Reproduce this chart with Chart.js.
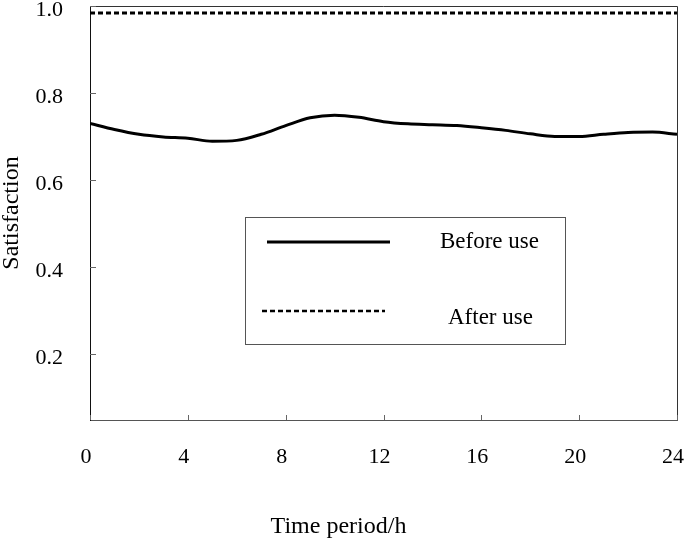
<!DOCTYPE html>
<html lang="en">
<head>
  <meta charset="UTF-8">
  <title>Satisfaction</title>
  <script src="https://cdn.jsdelivr.net/npm/chart.js"></script>
  <style>
    html, body { margin: 0; padding: 0; background: #fff; }
    #wrap { width: 685px; height: 541px; }
  </style>
</head>
<body>
  <div id="wrap"><canvas id="chart"></canvas></div>

  <script>
    const hours = [0, 1, 2, 3, 4, 5, 6, 7, 8, 9, 10, 11, 12, 13, 14, 15, 16, 17, 18, 19, 20, 21, 22, 23, 24];
    const beforeUse = [0.730, 0.716, 0.705, 0.699, 0.696, 0.689, 0.691, 0.705, 0.725, 0.743, 0.749, 0.744,
                       0.734, 0.729, 0.727, 0.725, 0.720, 0.714, 0.706, 0.700, 0.700, 0.705, 0.709, 0.710, 0.705];
    const afterUse = [0.984, 0.984, 0.984, 0.984, 0.984, 0.984, 0.984, 0.984, 0.984, 0.984, 0.984, 0.984,
                      0.984, 0.984, 0.984, 0.984, 0.984, 0.984, 0.984, 0.984, 0.984, 0.984, 0.984, 0.984, 0.984];
    const xTicks = [0, 4, 8, 12, 16, 20, 24];
    const yTicks = [0.2, 0.4, 0.6, 0.8, 1.0];

    const serif = 'Liberation Serif, Times New Roman, serif';

    // inward tick marks, top/right frame and the boxed legend
    const framePlugin = {
      id: 'frame',
      afterDraw(chart) {
        const ctx = chart.ctx;
        const a = chart.chartArea;
        const xs = chart.scales.x, ys = chart.scales.y;
        ctx.save();
        ctx.strokeStyle = '#333';
        ctx.lineWidth = 1;
        ctx.beginPath();
        ctx.moveTo(a.left, a.top + 0.5);
        ctx.lineTo(a.right + 0.5, a.top + 0.5);
        ctx.lineTo(a.right + 0.5, a.bottom);
        ctx.stroke();

        ctx.strokeStyle = '#666';
        ctx.beginPath();
        ys.ticks.forEach(t => {
          const y = Math.round(ys.getPixelForValue(t.value)) + 0.5;
          ctx.moveTo(a.left, y);
          ctx.lineTo(a.left + 6, y);
        });
        xs.ticks.forEach(t => {
          const x = Math.round(xs.getPixelForValue(t.value)) + 0.5;
          ctx.moveTo(x, a.bottom);
          ctx.lineTo(x, a.bottom - 5);
        });
        ctx.stroke();

        // legend box
        const box = { left: 245, top: 217, right: 565, bottom: 344 };
        ctx.strokeStyle = '#555';
        ctx.strokeRect(box.left + 0.5, box.top + 0.5, box.right - box.left, box.bottom - box.top);
        const rows = [
          { y: 242, x1: 267, x2: 390, tx: 440, ty: 242, w: 3 },
          { y: 311, x1: 262, x2: 385, tx: 448, ty: 318, w: 2.5 }
        ];
        chart.data.datasets.forEach((ds, i) => {
          const r = rows[i];
          ctx.strokeStyle = ds.borderColor;
          ctx.lineWidth = r.w;
          ctx.setLineDash(ds.borderDash || []);
          ctx.beginPath();
          ctx.moveTo(r.x1, r.y);
          ctx.lineTo(r.x2, r.y);
          ctx.stroke();
          ctx.setLineDash([]);
          ctx.fillStyle = '#000';
          ctx.font = '23px ' + serif;
          ctx.textAlign = 'left';
          ctx.textBaseline = 'middle';
          ctx.fillText(ds.label, r.tx, r.ty);
        });
        ctx.restore();
      }
    };

    new Chart(document.getElementById('chart').getContext('2d'), {
      type: 'line',
      data: {
        datasets: [
          {
            label: 'Before use',
            data: hours.map((h, i) => ({ x: h, y: beforeUse[i] })),
            borderColor: '#000',
            borderWidth: 3,
            pointRadius: 0,
            cubicInterpolationMode: 'monotone',
            fill: false
          },
          {
            label: 'After use',
            data: hours.map((h, i) => ({ x: h, y: afterUse[i] })),
            borderColor: '#000',
            borderWidth: 3,
            borderDash: [5, 3],
            pointRadius: 0,
            fill: false
          }
        ]
      },
      options: {
        responsive: true,
        maintainAspectRatio: false,
        animation: false,
        layout: { padding: { top: 6, right: 8, left: 0, bottom: 0 } },
        scales: {
          x: {
            type: 'linear',
            min: 0,
            max: 24,
            afterBuildTicks: s => { s.ticks = xTicks.map(v => ({ value: v })); },
            afterFit: s => { s.height = 92.2; s.paddingLeft = 0; s.paddingRight = 0; },
            grid: { display: true, drawOnChartArea: false, drawTicks: false },
            border: { display: true, color: '#555', width: 1 },
            ticks: {
              color: '#000',
              padding: 24,
              labelOffset: -4,
              maxRotation: 0,
              font: { family: serif, size: 22 }
            }
          },
          y: {
            type: 'linear',
            min: 0.048,
            max: 1.0,
            afterBuildTicks: s => { s.ticks = yTicks.map(v => ({ value: v })); },
            afterFit: s => { s.width = 90; s.paddingTop = 0; s.paddingBottom = 0; },
            grid: { display: true, drawOnChartArea: false, drawTicks: false },
            border: { display: true, color: '#111', width: 1 },
            ticks: {
              color: '#000',
              padding: 27,
              labelOffset: 4,
              font: { family: serif, size: 22 },
              callback: v => v.toFixed(1)
            },
            title: {
              display: true,
              text: 'Satisfaction',
              color: '#000',
              padding: 0,
              font: { family: serif, size: 24, lineHeight: 1 }
            }
          }
        },
        plugins: {
          legend: { display: false },
          tooltip: { enabled: false },
          title: {
            display: true,
            position: 'bottom',
            text: 'Time period/h',
            color: '#000',
            padding: { top: 0, bottom: 0 },
            font: { family: serif, size: 24, weight: 'normal' }
          }
        }
      },
      plugins: [framePlugin]
    });
  </script>
</body>
</html>
